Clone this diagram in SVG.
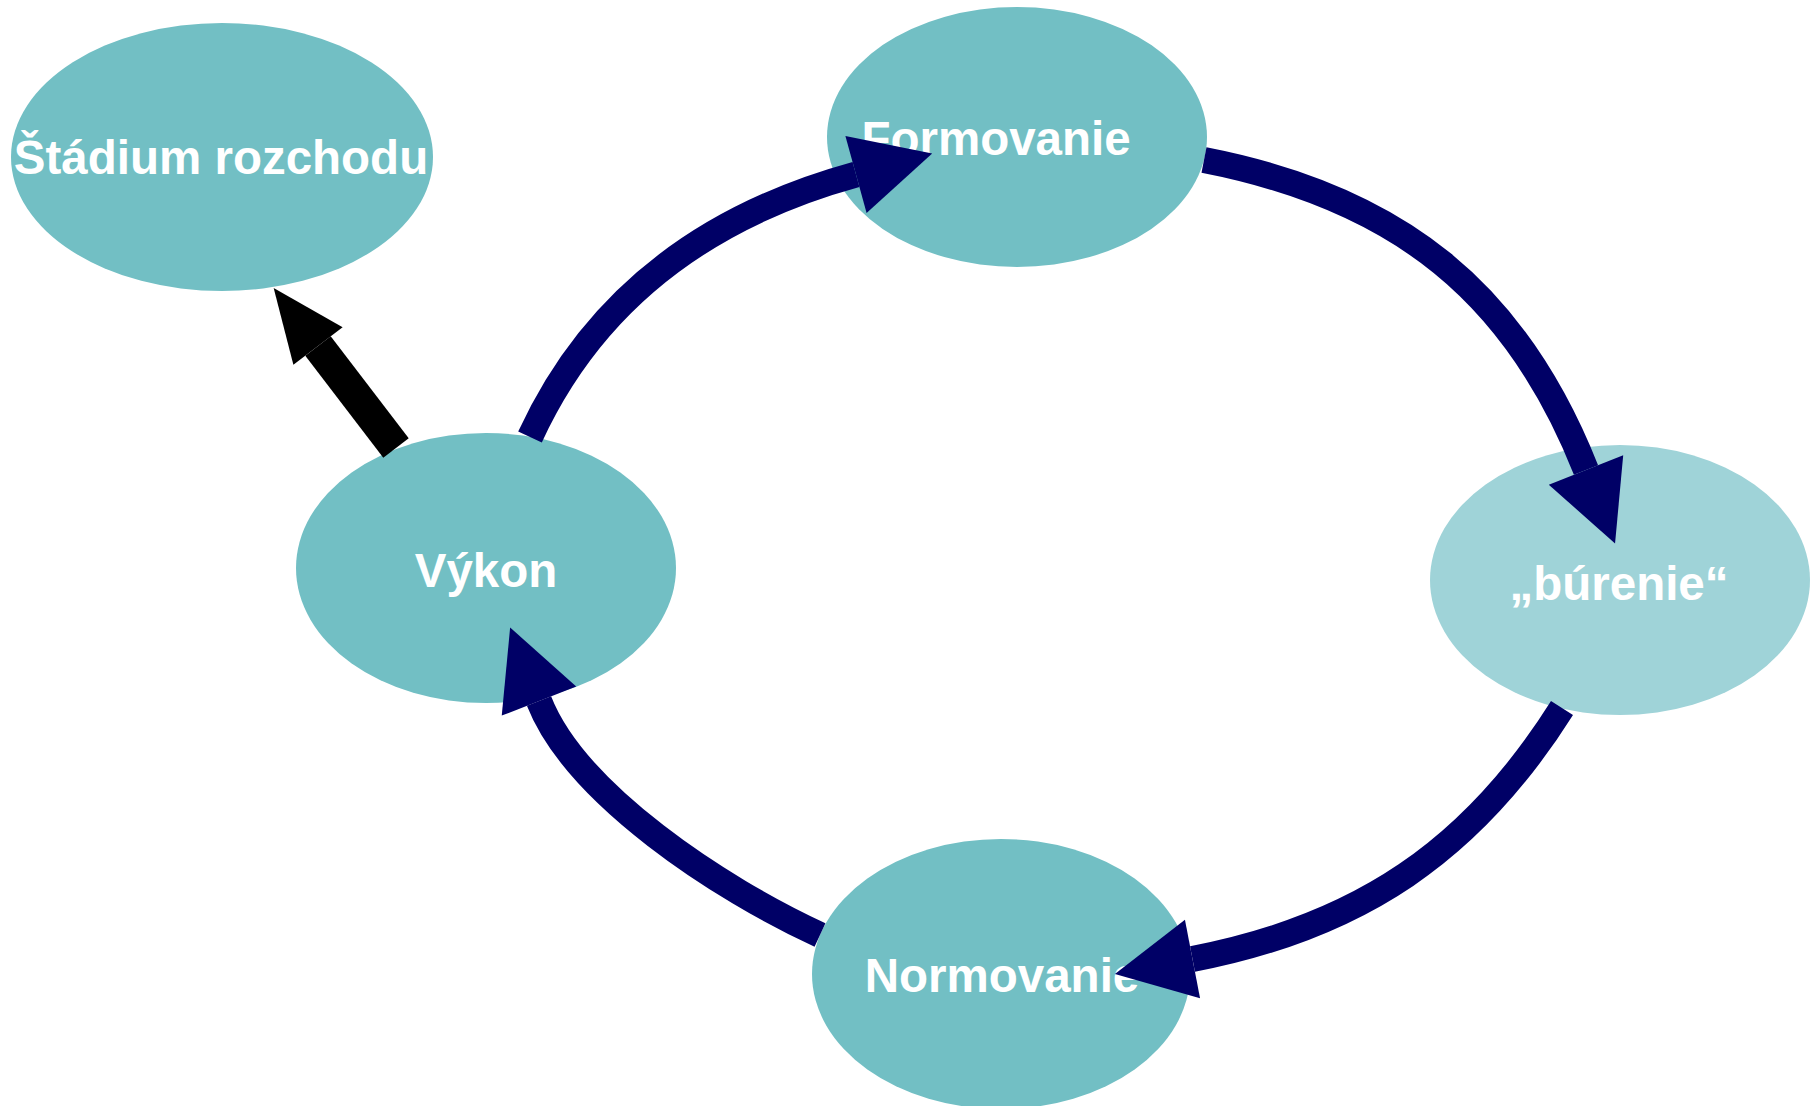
<svg xmlns="http://www.w3.org/2000/svg" width="1816" height="1106" viewBox="0 0 1816 1106">
  <style>
    .node { fill: #72BFC4; }
    .node-light { fill: #9FD3D8; }
    .label { font-family: "Liberation Sans", Arial, sans-serif; font-weight: bold; font-size: 47.5px; fill: #FFFFFF; text-anchor: middle; }
    .flow { fill: none; stroke: #000066; stroke-width: 26; stroke-linecap: butt; marker-end: url(#navyHead); }
    .exit { fill: none; stroke: #000000; stroke-width: 32; stroke-linecap: butt; marker-end: url(#blackHead); }
  </style>
  <defs>
    <marker id="navyHead" markerUnits="userSpaceOnUse" markerWidth="80" markerHeight="80" refX="0" refY="40" orient="auto" overflow="visible">
      <path d="M0,0 L79,40 L0,80 Z" fill="#000066"/>
    </marker>
    <marker id="blackHead" markerUnits="userSpaceOnUse" markerWidth="74" markerHeight="62" refX="0" refY="31" orient="auto" overflow="visible">
      <path d="M0,0 L73,31 L0,62 Z" fill="#000000"/>
    </marker>
  </defs>
  <rect width="1816" height="1106" fill="#FFFFFF"/>

  <g id="node-stadium-rozchodu">
    <ellipse class="node" cx="222" cy="157" rx="211" ry="134"/>
    <text class="label" x="221" y="174">Štádium rozchodu</text>
  </g>
  <g id="node-formovanie">
    <ellipse class="node" cx="1017" cy="137" rx="190" ry="130"/>
    <text class="label" x="996" y="155">Formovanie</text>
  </g>
  <g id="node-burenie">
    <ellipse class="node-light" cx="1620" cy="580" rx="190" ry="135"/>
    <text class="label" x="1619" y="600">„búrenie“</text>
  </g>
  <g id="node-vykon">
    <ellipse class="node" cx="486" cy="568" rx="190" ry="135"/>
    <text class="label" x="486" y="587">Výkon</text>
  </g>
  <g id="node-normovanie">
    <ellipse class="node" cx="1001" cy="974" rx="189" ry="135"/>
    <text class="label" x="1002" y="992">Normovanie</text>
  </g>

  <g id="connectors">
    <path class="flow" d="M530,437 C593,300 705,216 856,174.5"/>
    <path class="flow" d="M1204,160 C1399,198 1516,293 1586,470"/>
    <path class="flow" d="M1562,708 C1472,851 1359,927 1192.5,959"/>
    <path class="flow" d="M820,935 C720,889 575.5,794 539,701"/>
    <path class="exit" d="M396,448 L318,346"/>
  </g>
</svg>
